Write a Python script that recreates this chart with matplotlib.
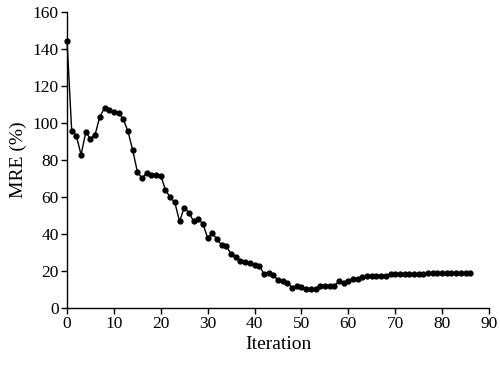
import numpy as np
import matplotlib.pyplot as plt

# MRE (%) per iteration
iterations = np.arange(0, 87)
mre = [
    144.5, 95.8, 93.0, 82.7, 95.0, 91.5, 93.7, 103.4, 108.0, 106.7,
    106.0, 105.5, 102.0, 95.5, 85.4, 73.7, 70.0, 73.0, 72.0, 72.0,
    71.5, 63.8, 59.8, 57.0, 46.8, 54.2, 51.5, 46.8, 47.9, 45.4,
    37.8, 40.4, 37.1, 34.0, 33.2, 29.2, 27.7, 25.4, 25.0, 24.1,
    23.2, 22.9, 18.4, 19.1, 17.8, 15.0, 14.8, 13.7, 11.0, 12.1,
    11.2, 10.3, 10.3, 10.3, 11.9, 11.9, 11.9, 11.9, 14.4, 13.5,
    14.6, 15.5, 15.9, 16.6, 17.5, 17.5, 17.5, 17.5, 17.5, 18.4,
    18.4, 18.4, 18.4, 18.4, 18.4, 18.3, 18.3, 18.7, 18.7, 18.7,
    18.7, 18.7, 18.7, 18.7, 18.7, 18.7, 18.7,
]

x_ticks = np.arange(0, 91, 10)
y_ticks = np.arange(0, 161, 20)

plt.rcParams['font.family'] = ['Liberation Serif', 'DejaVu Serif']

fig = plt.figure(figsize=(5.0, 3.71), dpi=100)
ax = fig.add_axes([0.134, 0.170, 0.844, 0.798])

ax.plot(iterations, mre, color='black', linewidth=1.0,
        marker='o', markersize=3.5, clip_on=False)

ax.set_xlim(0, 90)
ax.set_ylim(0, 160)
ax.set_xticks(x_ticks)
ax.set_yticks(y_ticks)
ax.tick_params(labelsize=12.5, direction='out', length=4, width=1, pad=2)

ax.spines['top'].set_visible(False)
ax.spines['right'].set_visible(False)
ax.spines['left'].set_linewidth(1.0)
ax.spines['bottom'].set_linewidth(1.0)

ax.set_xlabel('Iteration', fontsize=14, labelpad=3)
ax.set_ylabel('MRE (%)', fontsize=14, labelpad=4)

fig.savefig('out.png', dpi=100)
